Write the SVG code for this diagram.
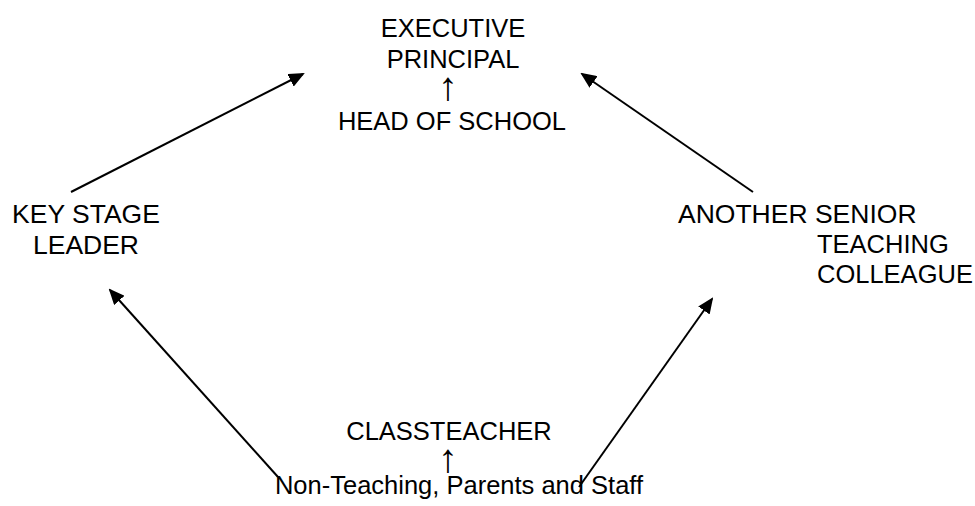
<svg xmlns="http://www.w3.org/2000/svg" width="975" height="506" viewBox="0 0 975 506">
  <style>
    text { font-family: "Liberation Sans", Arial, sans-serif; font-size: 25.5px; fill: #000; }
    .c { text-anchor: middle; }
    .w { font-size: 26.5px; }
    .arr { font-size: 40px; }
    .link { stroke: #000; stroke-width: 2; fill: none; marker-end: url(#head); }
  </style>
  <defs>
    <marker id="head" markerWidth="8" markerHeight="7" refX="7" refY="3.5" orient="auto" markerUnits="strokeWidth">
      <path d="M0,0 L8,3.5 L0,7 Z" fill="#000"/>
    </marker>
  </defs>
  <rect width="975" height="506" fill="#fff"/>

  <g id="connectors">
    <line class="link" x1="71" y1="192" x2="303" y2="74"/>
    <line class="link" x1="753" y1="192" x2="582" y2="74"/>
    <line class="link" x1="278" y1="477" x2="110" y2="290"/>
    <line class="link" x1="579" y1="487" x2="712" y2="299"/>
  </g>

  <g id="top">
    <text class="c" x="453" y="37">EXECUTIVE</text>
    <text class="c" x="453" y="68">PRINCIPAL</text>
    <text class="c arr" x="448" y="100">↑</text>
    <text class="c" x="452" y="130">HEAD OF SCHOOL</text>
  </g>

  <g id="key-stage-leader">
    <text class="c w" x="86" y="223">KEY STAGE</text>
    <text class="c w" x="86" y="254">LEADER</text>
  </g>

  <g id="senior-colleague">
    <text class="w" x="678" y="223">ANOTHER SENIOR</text>
    <text x="817" y="253">TEACHING</text>
    <text x="817" y="283">COLLEAGUE</text>
  </g>

  <g id="bottom">
    <text class="c" x="449" y="440">CLASSTEACHER</text>
    <text class="c arr" x="448" y="472">↑</text>
    <text class="c" x="459" y="494">Non-Teaching, Parents and Staff</text>
  </g>
</svg>
